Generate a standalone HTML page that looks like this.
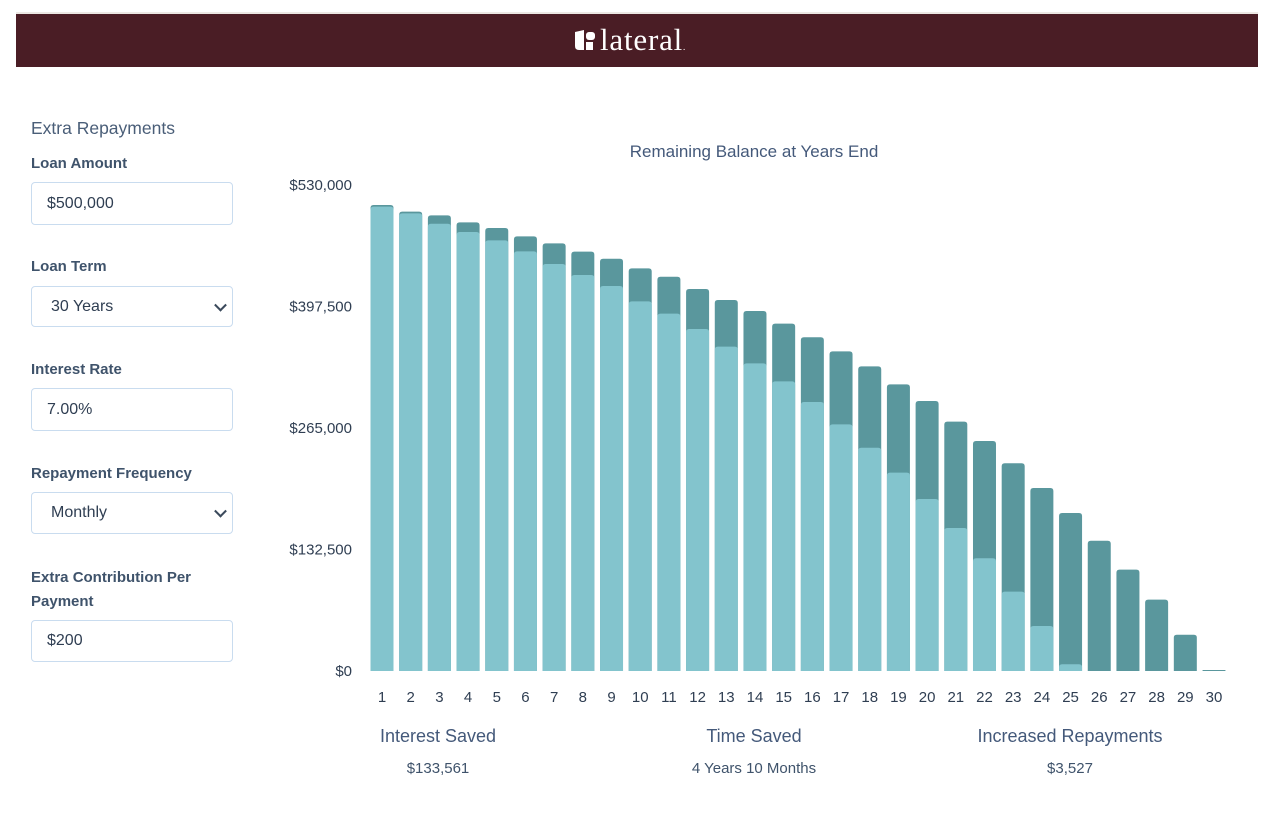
<!DOCTYPE html>
<html><head><meta charset="utf-8">
<style>
body{margin:0;width:1268px;height:816px;background:#fff;font-family:"Liberation Sans",Arial,sans-serif;position:relative;overflow:hidden;color:#3f536b}
.abs{position:absolute}
.lbl{position:absolute;left:31px;font-size:15px;font-weight:bold;color:#3f536b}
.inp{position:absolute;left:31px;width:202px;border:1px solid #c9dcef;border-radius:4px;background:#fff;font-size:16px;color:#2f3e52;box-sizing:border-box;padding-left:15px;display:flex;align-items:center}
.chev{position:absolute;right:7px;top:50%;width:7px;height:7px;border-right:2px solid #3b4a5c;border-bottom:2px solid #3b4a5c;transform:translateY(-70%) rotate(45deg)}
.stat{position:absolute;width:300px;text-align:center;font-size:18px;color:#44597a}
.val{position:absolute;width:300px;text-align:center;font-size:15px;color:#3f536b}
</style></head><body>
<div class="abs" style="left:16px;top:12px;width:1242px;height:2px;background:#ece8e4"></div>
<div class="abs" style="left:16px;top:14px;width:1242px;height:53px;background:#4a1d25"></div>
<div class="abs" style="left:574px;top:23px;height:34px;display:flex;align-items:center;color:#fff">
 <svg width="22" height="22" viewBox="0 0 22 22"><path d="M1 3 L10 1 L10 21 L5 21 Q1 21 1 17Z" fill="#fff"/><rect x="12" y="3" width="9" height="8" rx="3" fill="#fff"/><rect x="12" y="13" width="7" height="8" fill="#fff"/></svg>
 <span style="font-family:'Liberation Serif',serif;font-size:31px;margin-left:4px;letter-spacing:0.8px">lateral<span style="font-size:9px">.</span></span>
</div>

<div class="abs" style="left:31px;top:118px;font-size:17.5px;color:#4a5e78">Extra Repayments</div>
<div class="lbl" style="top:155px">Loan Amount</div>
<div class="inp" style="top:182px;height:43px">$500,000</div>
<div class="lbl" style="top:258px">Loan Term</div>
<div class="inp" style="top:286px;height:41px;padding-left:19px">30 Years<span class="chev"></span></div>
<div class="lbl" style="top:361px">Interest Rate</div>
<div class="inp" style="top:388px;height:43px">7.00%</div>
<div class="lbl" style="top:465px">Repayment Frequency</div>
<div class="inp" style="top:492px;height:42px;padding-left:19px">Monthly<span class="chev"></span></div>
<div class="lbl" style="top:566px;line-height:24px">Extra Contribution Per<br>Payment</div>
<div class="inp" style="top:620px;height:42px">$200</div>

<svg class="abs" style="left:0;top:0" width="1268" height="816" id="chart">
 <text x="754" y="157" text-anchor="middle" font-size="17" fill="#44597a">Remaining Balance at Years End</text>
</svg>

<div class="stat" style="left:288px;top:726px">Interest Saved</div>
<div class="val" style="left:288px;top:760px">$133,561</div>
<div class="stat" style="left:604px;top:726px">Time Saved</div>
<div class="val" style="left:604px;top:760px">4 Years 10 Months</div>
<div class="stat" style="left:920px;top:726px">Increased Repayments</div>
<div class="val" style="left:920px;top:760px">$3,527</div>

<script>
const years=[1,2,3,4,5,6,7,8,9,10,11,12,13,14,15,16,17,18,19,20,21,22,23,24,25,26,27,28,29,30];
const originalBalance=[508200,500900,496900,489300,483100,474000,466400,457300,449600,439100,430000,416600,404600,392600,378800,363900,348600,332200,312600,294400,271900,250800,226500,199600,172300,142100,110500,77800,39600,1100];
const extraBalance=[506400,499100,487800,478700,469600,457600,443800,431800,419800,403100,389700,372900,353700,335500,315900,293300,269000,243500,216300,187600,155900,122900,86500,49100,7300,0,0,0,0,0];
const yTicks=[0,132500,265000,397500,530000];
const yTickLabels=["$0","$132,500","$265,000","$397,500","$530,000"];

const svg=document.getElementById('chart');
const NS='http://www.w3.org/2000/svg';
const y0=671,yTop=185,yMax=530000;
function y(v){return y0-(v/yMax)*(y0-yTop);}
const step=28.69,x1=382,bw=23;
function x(i){return x1+i*step;}
function mk(tag,attrs){const e=document.createElementNS(NS,tag);for(const k in attrs)e.setAttribute(k,attrs[k]);svg.appendChild(e);return e;}
function barPath(cx,top,bottom,w,r){
  const h=bottom-top; if(h<=0) return '';
  r=Math.min(r,h/2,w/2);
  const l=cx-w/2,rt=cx+w/2;
  return `M${l},${bottom} L${l},${top+r} Q${l},${top} ${l+r},${top} L${rt-r},${top} Q${rt},${top} ${rt},${top+r} L${rt},${bottom} Z`;
}
yTicks.forEach((t,i)=>{
  const e=mk('text',{x:352,y:y(t)+5,'text-anchor':'end','font-size':15,fill:'#2f3e52'});
  e.textContent=yTickLabels[i];
  
  
});
years.forEach((yr,i)=>{
  const cx=x(i);
  const d=mk('path',{d:barPath(cx,y(originalBalance[i]),y0,bw,3),fill:'#5a979d'});
  
  
  if(extraBalance[i]>0){
    const l=mk('path',{d:barPath(cx,y(extraBalance[i]),y0,bw,3),fill:'#83c4cd'});
    
    
  }
  const t=mk('text',{x:cx,y:702,'text-anchor':'middle','font-size':15,fill:'#2f3e52'});
  t.textContent=yr;
  
  
});
</script>
</body></html>
